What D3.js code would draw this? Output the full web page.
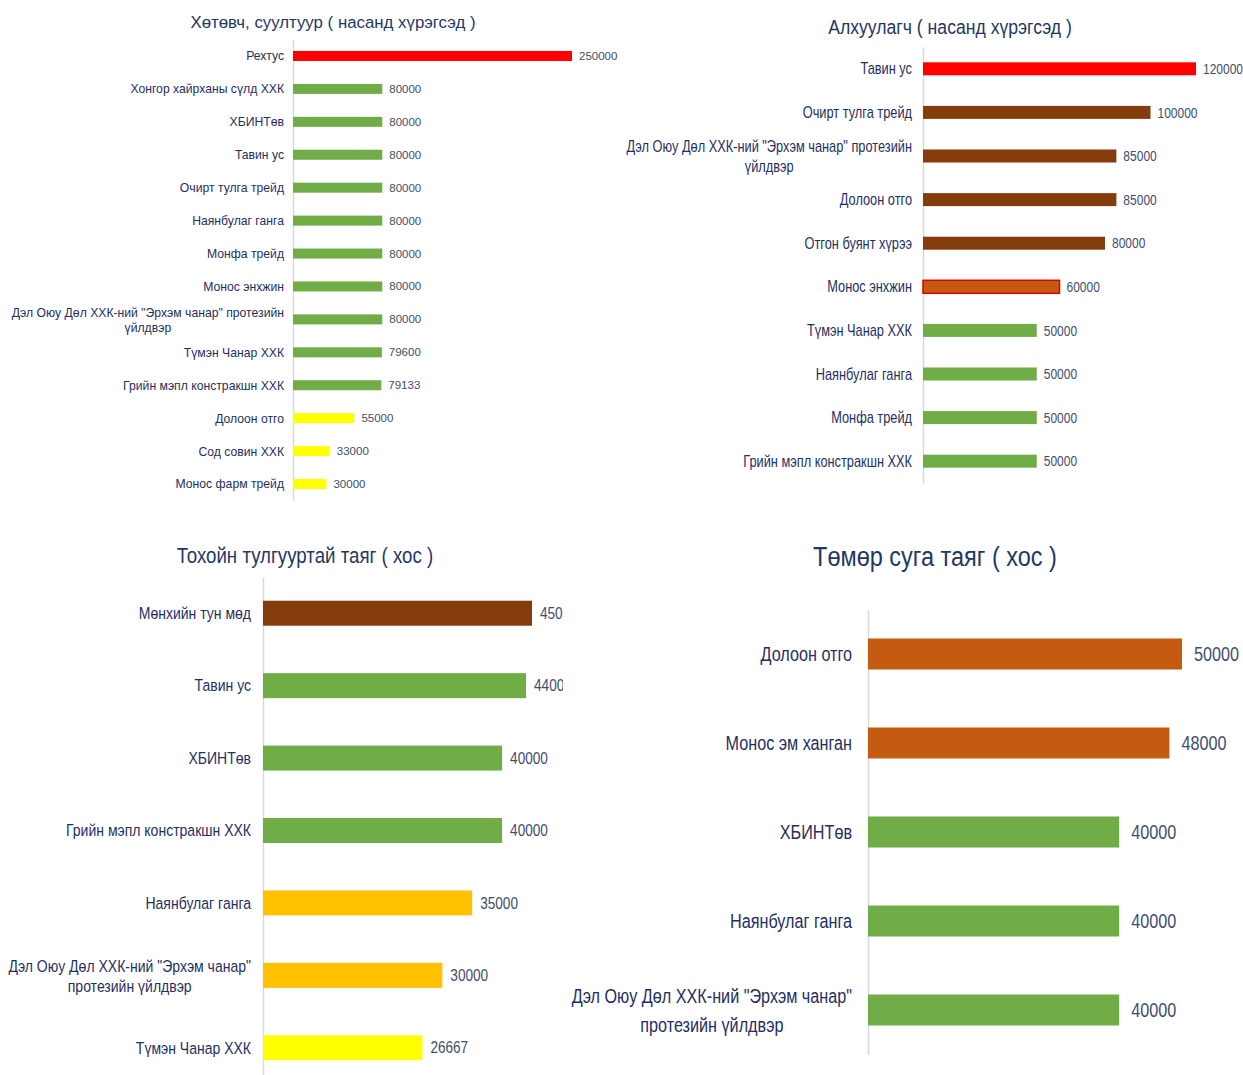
<!DOCTYPE html>
<html>
<head>
<meta charset="utf-8">
<script src="https://cdn.jsdelivr.net/npm/d3@7"></script>
<style>
  body { margin: 0; background: #fff; }
  svg { display: block; }
</style>
</head>
<body>
<svg id="chart" width="1243" height="1075"></svg>
<script>
// ---- data ----
// Хөтөвч, суултуур
const seatNames = ["Рехтус", "Хонгор хайрханы сүлд ХХК", "ХБИНТөв", "Тавин ус", "Очирт тулга трейд",
  "Наянбулаг ганга", "Монфа трейд", "Монос энхжин", "Дэл Оюу Дөл ХХК-ний \"Эрхэм чанар\" протезийн\nүйлдвэр",
  "Түмэн Чанар ХХК", "Грийн мэпл констракшн ХХК", "Долоон отго", "Сод совин ХХК", "Монос фарм трейд"];
const seatValues = [250000, 80000, 80000, 80000, 80000, 80000, 80000, 80000, 80000, 79600, 79133, 55000, 33000, 30000];
const seatTiers = ["red", "green", "green", "green", "green", "green", "green", "green", "green", "green", "green", "yellow", "yellow", "yellow"];

// Алхуулагч
const walkerNames = ["Тавин ус", "Очирт тулга трейд", "Дэл Оюу Дөл ХХК-ний \"Эрхэм чанар\" протезийн\nүйлдвэр",
  "Долоон отго", "Отгон буянт хүрээ", "Монос энхжин", "Түмэн Чанар ХХК", "Наянбулаг ганга", "Монфа трейд",
  "Грийн мэпл констракшн ХХК"];
const walkerValues = [120000, 100000, 85000, 85000, 80000, 60000, 50000, 50000, 50000, 50000];
const walkerTiers = ["red", "brown", "brown", "brown", "brown", "orangeRed", "green", "green", "green", "green"];

// Тохойн тулгууртай таяг
const elbowNames = ["Мөнхийн тун мөд", "Тавин ус", "ХБИНТөв", "Грийн мэпл констракшн ХХК", "Наянбулаг ганга",
  "Дэл Оюу Дөл ХХК-ний \"Эрхэм чанар\"\nпротезийн үйлдвэр", "Түмэн Чанар ХХК"];
const elbowValues = [45000, 44000, 40000, 40000, 35000, 30000, 26667];
const elbowTiers = ["brown", "green", "green", "green", "gold", "gold", "yellow"];

// Төмөр суга таяг
const crutchNames = ["Долоон отго", "Монос эм ханган", "ХБИНТөв", "Наянбулаг ганга",
  "Дэл Оюу Дөл ХХК-ний \"Эрхэм чанар\"\nпротезийн үйлдвэр"];
const crutchValues = [50000, 48000, 40000, 40000, 40000];
const crutchTiers = ["orange", "orange", "green", "green", "green"];

// ---- styles ----
const tierFill = { red: "#ff0000", green: "#70ad47", yellow: "#ffff00", brown: "#843c0c",
  orange: "#c55a11", orangeRed: "#c55a11", gold: "#ffc000" };
const tierStroke = { orangeRed: "#e00000" };
const labelColor = "#1f2f5f";
const valueColor = "#3f4d6e";
const font = "'Liberation Sans', Arial, sans-serif";

const svg = d3.select("#chart");

// sx squeezes text horizontally (the original uses a condensed face)
const panels = [
  { title: "Хөтөвч, суултуур ( насанд хүрэгсэд )", names: seatNames, values: seatValues, tiers: seatTiers,
    max: 250000, left: 293, right: 572, top: 39.5, bottom: 500.5, barH: 10,
    titleX: 333, titleY: 28, titleSize: 17, titleSx: 0.99,
    sx: 1, labelSize: 12.2, pad: 9, lineH: 15, valSize: 11.5, valGap: 7 },
  { title: "Алхуулагч ( насанд хүрэгсэд )", names: walkerNames, values: walkerValues, tiers: walkerTiers,
    max: 120000, left: 923, right: 1196, top: 47, bottom: 483, barH: 13,
    titleX: 950, titleY: 34, titleSize: 21, titleSx: 0.84,
    sx: 0.8, labelSize: 16, pad: 11, lineH: 20, valSize: 15, valGap: 7 },
  { title: "Тохойн тулгууртай таяг ( хос )", names: elbowNames, values: elbowValues, tiers: elbowTiers,
    max: 45000, left: 263, right: 532, top: 577, bottom: 1084, barH: 25,
    titleX: 305, titleY: 563, titleSize: 22, titleSx: 0.85, clip: 563,
    sx: 0.85, labelSize: 16.5, pad: 12, lineH: 20, valSize: 16, valGap: 8 },
  { title: "Төмөр суга таяг ( хос )", names: crutchNames, values: crutchValues, tiers: crutchTiers,
    max: 50000, left: 868, right: 1182, top: 609.5, bottom: 1054.5, barH: 31,
    titleX: 935, titleY: 566, titleSize: 28, titleSx: 0.84,
    sx: 0.81, labelSize: 20, pad: 16, lineH: 30, valSize: 20, valGap: 12 }
];

panels.forEach((p, k) => drawPanel(p, k));

function drawPanel(p, k) {
  const g = svg.append("g");

  g.append("text")
    .attr("transform", `scale(${p.titleSx},1)`)
    .attr("x", p.titleX / p.titleSx).attr("y", p.titleY)
    .attr("text-anchor", "middle")
    .attr("font-family", font).attr("font-size", p.titleSize)
    .attr("fill", "#1f3864")
    .text(p.title);

  const y = d3.scalePoint().domain(p.names).range([p.top, p.bottom]).padding(0.5);
  const x = d3.scaleLinear().domain([0, p.max]).range([p.left, p.right]);

  // category axis (labels + light vertical line)
  const ax = g.append("g")
    .attr("transform", `translate(${p.left},0)`)
    .call(d3.axisLeft(y).tickSize(0).tickSizeOuter(0).tickPadding(p.pad));
  ax.select(".domain").attr("stroke", "#d9d9d9").attr("stroke-width", 1.5);
  ax.selectAll(".tick text")
    .attr("font-family", font).attr("font-size", p.labelSize).attr("fill", labelColor)
    .attr("transform", `scale(${p.sx},1)`)
    .attr("x", -p.pad / p.sx)
    .each(function (d) { splitLines(d3.select(this), d, p); });

  // bars
  const barsG = g.append("g");
  if (p.clip) {
    svg.append("clipPath").attr("id", "clip" + k)
      .append("rect").attr("x", 0).attr("y", 0).attr("width", p.clip).attr("height", 1075);
    barsG.attr("clip-path", `url(#clip${k})`);
  }
  barsG.selectAll("rect")
    .data(p.names)
    .join("rect")
    .attr("x", x(0))
    .attr("y", (d) => y(d) - p.barH / 2)
    .attr("width", (d, i) => x(p.values[i]) - x(0))
    .attr("height", p.barH)
    .attr("fill", (d, i) => tierFill[p.tiers[i]])
    .attr("stroke", (d, i) => tierStroke[p.tiers[i]] || "none")
    .attr("stroke-width", 1.5);

  barsG.selectAll("text.val")
    .data(p.names)
    .join("text")
    .attr("class", "val")
    .attr("transform", `scale(${p.sx},1)`)
    .attr("x", (d, i) => (x(p.values[i]) + p.valGap) / p.sx)
    .attr("y", (d) => y(d))
    .attr("dy", "0.35em")
    .attr("font-family", font).attr("font-size", p.valSize)
    .attr("fill", valueColor)
    .text((d, i) => p.values[i]);
}

// multi-line labels: lines centred on each other, block right-aligned to the axis
function splitLines(text, d, p) {
  const lines = d.split("\n");
  if (lines.length < 2) return;
  text.text(null);
  const spans = lines.map((l) => text.append("tspan").text(l));
  const w = d3.max(spans, (s) => s.node().getComputedTextLength());
  const cx = -p.pad / p.sx - w / 2;
  text.attr("text-anchor", "middle").attr("dy", null);
  spans.forEach((s, i) => {
    s.attr("x", cx).attr("y", (i - (lines.length - 1) / 2) * p.lineH).attr("dy", "0.35em");
  });
}
</script>
</body>
</html>
